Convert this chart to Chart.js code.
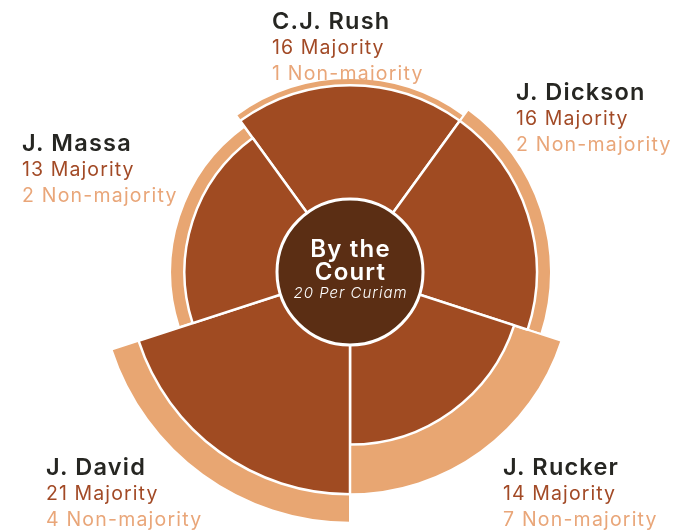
<!DOCTYPE html>
<html>
<head>
<meta charset="utf-8">
<script src="https://cdn.jsdelivr.net/npm/chart.js@4.4.0/dist/chart.umd.min.js"></script>
<style>
    html, body { margin: 0; padding: 0; background: #fff; }
    #wrap { position: relative; width: 696px; height: 532px; font-family: Inter, sans-serif; overflow: hidden; }
    #wrap canvas { position: absolute; left: 0; top: 0; }
    .lbl { position: absolute; white-space: nowrap; }
    .lbl .name { font-size: 23.5px; font-weight: 600; color: #262622; line-height: 26px; letter-spacing: 1.2px; }
    .lbl .maj { font-size: 19.5px; color: #a24a26; line-height: 27px; letter-spacing: 1.1px; }
    .lbl .non { font-size: 19.5px; color: #e9a679; line-height: 25px; letter-spacing: 1.2px; }
    #center { position: absolute; left: 260px; width: 181px; top: 237px; text-align: center; color: #fff; }
    #center .big { font-size: 24px; font-weight: 600; line-height: 23px; letter-spacing: 1.2px; }
    #center .small { font-size: 15px; font-style: italic; font-weight: 300; line-height: 19px; letter-spacing: 1px; }
</style>
</head>
<body>
<div id="wrap">
    <canvas id="courtChart" width="696" height="532"></canvas>
    <div id="center">
        <div class="big">By the</div>
        <div class="big">Court</div>
        <div class="small" id="perCuriam"></div>
    </div>
</div>
<script>
// data, clockwise from the top
const justices = ['C.J. Rush', 'J. Dickson', 'J. Rucker', 'J. David', 'J. Massa'];
const majority = [16, 16, 14, 21, 13];
const nonMajority = [1, 2, 7, 4, 2];
const perCuriam = 20;

// label block positions (left, top) in px
const labelPos = [[272, 8], [516, 79], [503, 454], [46, 454], [22, 130]];

const DARK = '#a04b22';
const LIGHT = '#e8a672';
const CORE = '#5b2e14';
const CORE_RADIUS = 73;

document.addEventListener('DOMContentLoaded', () => {
    const wrap = document.getElementById('wrap');

    justices.forEach((name, i) => {
        const el = document.createElement('div');
        el.className = 'lbl';
        el.style.left = labelPos[i][0] + 'px';
        el.style.top = labelPos[i][1] + 'px';
        el.innerHTML = '<div class="name">' + name + '</div>' +
            '<div class="maj">' + majority[i] + ' Majority</div>' +
            '<div class="non">' + nonMajority[i] + ' Non-majority</div>';
        wrap.appendChild(el);
    });
    document.getElementById('perCuriam').textContent = perCuriam + ' Per Curiam';

    // majority + non-majority, drawn underneath the majority wedge
    const total = majority.map((v, i) => v + nonMajority[i]);

    // the dark core disc in the middle
    const coreDisc = {
        id: 'coreDisc',
        afterDatasetsDraw(chart) {
            const r = chart.scales.r;
            const ctx = chart.ctx;
            ctx.save();
            ctx.beginPath();
            ctx.arc(r.xCenter, r.yCenter, CORE_RADIUS, 0, Math.PI * 2);
            ctx.fillStyle = CORE;
            ctx.fill();
            ctx.lineWidth = 3;
            ctx.strokeStyle = '#fff';
            ctx.stroke();
            ctx.restore();
        }
    };

    new Chart(document.getElementById('courtChart').getContext('2d'), {
        type: 'polarArea',
        data: {
            labels: justices,
            datasets: [{
                label: 'Majority',
                data: majority,
                backgroundColor: DARK,
                borderColor: '#fff',
                borderWidth: 2.5
            }, {
                label: 'Total',
                data: total,
                backgroundColor: LIGHT,
                borderColor: '#fff',
                borderWidth: 2
            }]
        },
        options: {
            responsive: false,
            animation: false,
            events: [],
            layout: { padding: { left: 5, top: 12 } },
            plugins: {
                legend: { display: false },
                tooltip: { enabled: false }
            },
            scales: {
                r: {
                    // 0 sits on the edge of the core disc, ~7.1 px per decision
                    startAngle: -36,
                    min: -10.3,
                    max: 26.3,
                    ticks: { display: false },
                    grid: { display: false },
                    angleLines: { display: false },
                    pointLabels: { display: false }
                }
            }
        },
        plugins: [coreDisc]
    });
});
</script>
</body>
</html>
